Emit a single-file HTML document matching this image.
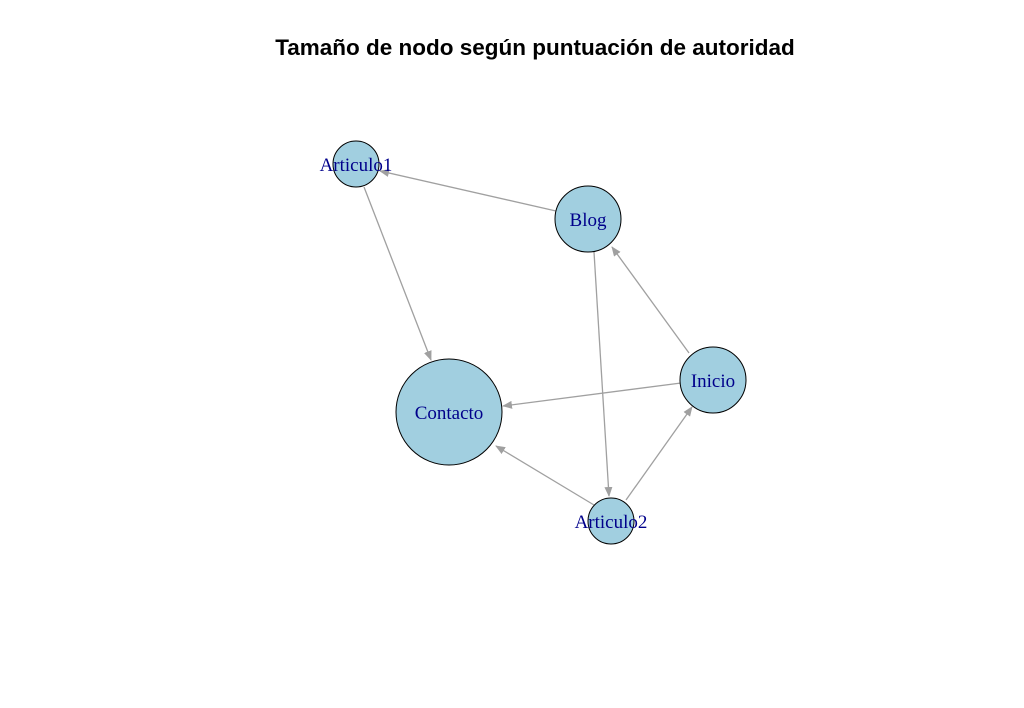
<!DOCTYPE html>
<html><head><meta charset="utf-8"><style>
html,body{margin:0;padding:0;background:#fff;}
svg{display:block;}
</style></head><body>
<svg width="1024" height="708" viewBox="0 0 1024 708" xmlns="http://www.w3.org/2000/svg">
<defs>
<marker id="a" markerWidth="10" markerHeight="8" refX="9" refY="4" orient="auto" markerUnits="userSpaceOnUse">
<path d="M0,0 L10,4 L0,8 Z" fill="#a0a0a0"/>
</marker>
</defs>
<rect width="1024" height="708" fill="#fff"/>
<text x="535" y="55" text-anchor="middle" font-family="Liberation Sans, sans-serif" font-weight="bold" font-size="22.5">Tamaño de nodo según puntuación de autoridad</text>
<g stroke="#a0a0a0" stroke-width="1.3" fill="none" marker-end="url(#a)">
<line x1="556" y1="211" x2="380" y2="171"/>
<line x1="364" y1="187" x2="431" y2="360"/>
<line x1="594" y1="252" x2="609" y2="496"/>
<line x1="689" y1="353" x2="612" y2="247"/>
<line x1="681" y1="383" x2="503" y2="406"/>
<line x1="594" y1="505" x2="496" y2="446"/>
<line x1="626" y1="500" x2="692" y2="407"/>
</g>
<g fill="#a1cfe0" stroke="#000" stroke-width="1">
<circle cx="356" cy="164" r="23"/>
<circle cx="588" cy="219" r="33"/>
<circle cx="713" cy="380" r="33"/>
<circle cx="449" cy="412" r="53"/>
<circle cx="611" cy="521" r="23"/>
</g>
<g font-family="Liberation Serif, serif" font-size="19" fill="#00008b" text-anchor="middle">
<text x="356" y="171">Articulo1</text>
<text x="588" y="226">Blog</text>
<text x="713" y="387">Inicio</text>
<text x="449" y="419">Contacto</text>
<text x="611" y="528">Articulo2</text>
</g>
</svg>
</body></html>
